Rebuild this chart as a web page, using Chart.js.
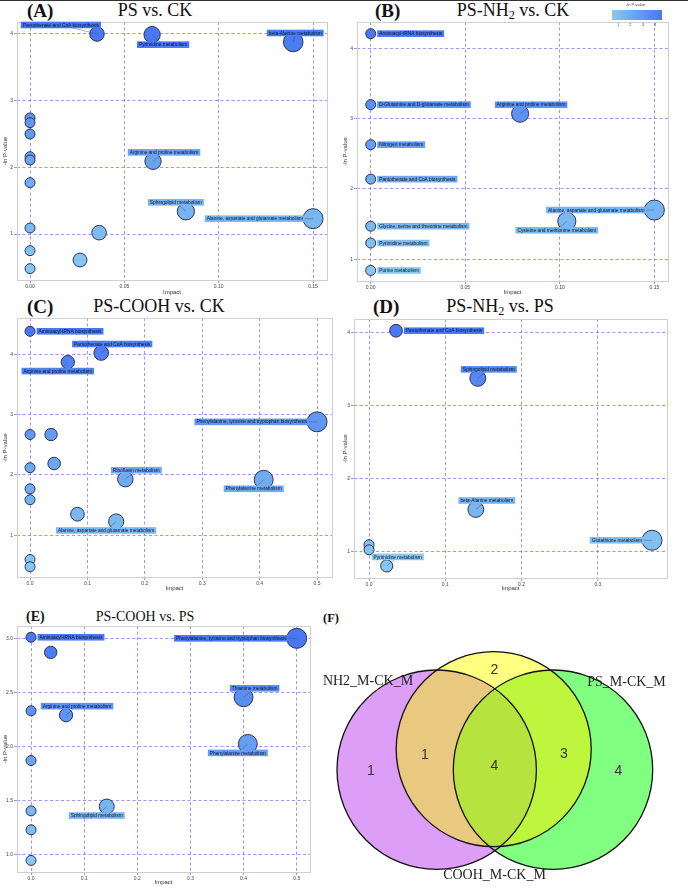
<!DOCTYPE html>
<html><head><meta charset="utf-8">
<script src="https://cdn.jsdelivr.net/npm/chart.js@4.4.1/dist/chart.umd.min.js"></script>
<style>
body{margin:0;background:#fff;width:688px;height:890px;position:relative;overflow:hidden;font-family:"Liberation Serif","Times New Roman",serif;}
canvas{position:absolute;}
.t{position:absolute;white-space:nowrap;color:#111;line-height:1;}
.pl{font-weight:bold;}
.c{transform:translate(-50%,-50%);}
.l{transform:translateY(-50%);}
.sb{font-size:0.68em;position:relative;top:0.28em;}
</style></head><body>
<div style="position:absolute;left:0;top:0;width:688px;height:1px;background:#333"></div>
<div class="t pl l" style="left:27px;top:10px;font-size:19px">(A)</div>
<div class="t c" style="left:155px;top:10px;font-size:18px">PS vs. CK</div>
<div class="t pl l" style="left:375px;top:10px;font-size:19px">(B)</div>
<div class="t c" style="left:513px;top:10px;font-size:18px">PS-NH<span class="sb">2</span> vs. CK</div>
<div class="t pl l" style="left:27px;top:306px;font-size:19px">(C)</div>
<div class="t c" style="left:159px;top:306px;font-size:18px">PS-COOH vs. CK</div>
<div class="t pl l" style="left:373px;top:306px;font-size:19px">(D)</div>
<div class="t c" style="left:500px;top:306px;font-size:18px">PS-NH<span class="sb">2</span> vs. PS</div>
<div class="t pl l" style="left:26px;top:617px;font-size:14px">(E)</div>
<div class="t c" style="left:145px;top:617px;font-size:14px">PS-COOH vs. PS</div>
<div class="t pl l" style="left:323px;top:618px;font-size:12.5px">(F)</div>
<script>
// ---------------- DATA ----------------
// Panel A: PS vs. CK
const namesA = ['Pantothenate and CoA biosynthesis','Pyrimidine metabolism','beta-Alanine metabolism','Arginine and proline metabolism','Sphingolipid metabolism','Alanine, aspartate and glutamate metabolism','','','','','','','','','','',''];
const impactA = [0.0355,0.0647,0.1395,0.0652,0.0826,0.150,0.0366,0.0265,0,0,0,0,0,0,0,0,0];
const lnpA = [4.00,3.99,3.88,2.09,1.34,1.23,1.02,0.61,2.74,2.67,2.50,2.16,2.11,1.77,1.09,0.75,0.48];
const labelPosA = ['AL','B+','A0','A','A-','L','','','','','','','','','','',''];
const xTicksA = [0,0.05,0.10,0.15];
const xTickLabelsA = ['0.00','0.05','0.10','0.15'];
const yTicksA = [1,2,3,4];
const yTickLabelsA = ['1','2','3','4'];

// Panel B: PS-NH2 vs. CK
const namesB = ['Aminoacyl-tRNA biosynthesis','D-Glutamine and D-glutamate metabolism','Arginine and proline metabolism','Nitrogen metabolism','Pantothenate and CoA biosynthesis','Alanine, aspartate and glutamate metabolism','Cysteine and methionine metabolism','Glycine, serine and threonine metabolism','Pyrimidine metabolism','Purine metabolism'];
const impactB = [0,0,0.079,0,0,0.150,0.1037,0,0,0];
const lnpB = [4.21,3.20,3.07,2.63,2.14,1.70,1.54,1.47,1.23,0.84];
const labelPosB = ['R','R','A','R','R','L','B','R','R','R'];
const xTicksB = [0,0.05,0.10,0.15];
const xTickLabelsB = ['0.00','0.05','0.10','0.15'];
const yTicksB = [1,2,3,4];
const yTickLabelsB = ['1','2','3','4'];
const legendTicks = [1,2,3,4];

// Panel C: PS-COOH vs. CK
const namesC = ['Aminoacyl-tRNA biosynthesis','Pantothenate and CoA biosynthesis','Arginine and proline metabolism','Phenylalanine, tyrosine and tryptophan biosynthesis','','','','','Riboflavin metabolism','Phenylalanine metabolism','','','','Alanine, aspartate and glutamate metabolism','',''];
const impactC = [0,0.124,0.0658,0.50,0,0.0366,0.042,0,0.166,0.407,0,0,0.0826,0.150,0,0];
const lnpC = [4.38,4.02,3.87,2.88,2.67,2.67,2.19,2.12,1.93,1.92,1.77,1.59,1.35,1.23,0.60,0.48];
const labelPosC = ['R','A','B','L','','','','','A','B','','','','B','',''];
const xTicksC = [0,0.1,0.2,0.3,0.4,0.5];
const xTickLabelsC = ['0.0','0.1','0.2','0.3','0.4','0.5'];
const yTicksC = [1,2,3,4];
const yTickLabelsC = ['1','2','3','4'];

// Panel D: PS-NH2 vs. PS
const namesD = ['Pantothenate and CoA biosynthesis','Sphingolipid metabolism','beta-Alanine metabolism','Glutathione metabolism','','','Pyrimidine metabolism'];
const impactD = [0.0354,0.1426,0.140,0.371,0,0,0.0232];
const lnpD = [4.02,3.37,1.58,1.16,1.10,1.03,0.81];
const labelPosD = ['R','A','A','L','','','A'];
const xTicksD = [0,0.1,0.2,0.3];
const xTickLabelsD = ['0.0','0.1','0.2','0.3'];
const yTicksD = [1,2,3,4];
const yTickLabelsD = ['1','2','3','4'];

// Panel E: PS-COOH vs. PS
const namesE = ['Aminoacyl-tRNA biosynthesis','','Phenylalanine, tyrosine and tryptophan biosynthesis','Thiamine metabolism','','Arginine and proline metabolism','Phenylalanine metabolism','','Sphingolipid metabolism','','',''];
const impactE = [0,0.037,0.50,0.40,0,0.0659,0.408,0,0.1425,0,0,0];
const lnpE = [3.01,2.87,3.00,2.455,2.33,2.29,2.024,1.87,1.445,1.405,1.23,0.947];
const labelPosE = ['R','','L','A','','A','B','','B','','',''];
const xTicksE = [0,0.1,0.2,0.3,0.4,0.5];
const xTickLabelsE = ['0.0','0.1','0.2','0.3','0.4','0.5'];
const yTicksE = [1.0,1.5,2.0,2.5,3.0];
const yTickLabelsE = ['1.0','1.5','2.0','2.5','3.0'];

// Panel F: Venn
const vennSetNames = ['NH2_M-CK_M','COOH_M-CK_M','PS_M-CK_M'];
const vennRegions = ['NH2 only','COOH only','PS only','NH2 & COOH','COOH & PS','all three'];
const vennCounts = [1,2,4,1,3,4];

// ---------------- LAYOUT / STYLE ----------------
const SANS = '"Liberation Sans", Arial, sans-serif';
const SERIF = '"Liberation Serif", "Times New Roman", serif';
const GRID = 'rgba(120,105,242,0.72)';
const LO = [136,200,240], HI = [72,120,243];
function colorFor(t){ t=Math.max(0,Math.min(1,t)); return 'rgb('+LO.map((c,k)=>Math.round(c+(HI[k]-c)*t)).join(',')+')'; }

const PANELS = [
 {names:namesA, impact:impactA, lnp:lnpA, modes:labelPosA, xt:xTicksA, xl:xTickLabelsA, yt:yTicksA, yl:yTickLabelsA,
  canvas:[0,0,340,298], area:[17,22,327,280], xr:[-0.0069,0.1574], yr:[0.31,4.18], tpb:2.4},
 {names:namesB, impact:impactB, lnp:lnpB, modes:labelPosB, xt:xTicksB, xl:xTickLabelsB, yt:yTicksB, yl:yTickLabelsB,
  canvas:[340,0,348,298], area:[357,22,668,281], xr:[-0.00725,0.1572], yr:[0.69,4.376], tpb:2.4, legend:true},
 {names:namesC, impact:impactC, lnp:lnpC, modes:labelPosC, xt:xTicksC, xl:xTickLabelsC, yt:yTicksC, yl:yTickLabelsC,
  canvas:[0,300,340,292], area:[17,318,332,577], xr:[-0.0227,0.526], yr:[0.31,4.60], tpb:0.4},
 {names:namesD, impact:impactD, lnp:lnpD, modes:labelPosD, xt:xTicksD, xl:xTickLabelsD, yt:yTicksD, yl:yTickLabelsD,
  canvas:[340,300,348,292], area:[354,319,667,578], xr:[-0.0197,0.3906], yr:[0.645,4.18], tpb:0.4},
 {names:namesE, impact:impactE, lnp:lnpE, modes:labelPosE, xt:xTicksE, xl:xTickLabelsE, yt:yTicksE, yl:yTickLabelsE,
  canvas:[0,605,320,285], area:[17,626,310,872], xr:[-0.0264,0.525], yr:[0.84,3.114], tpb:4.4}
];

const framePlugin = {id:'frame', beforeDatasetsDraw(chart){
  const {ctx, chartArea:a} = chart;
  ctx.save(); ctx.strokeStyle='#cfcfcf'; ctx.lineWidth=1;
  ctx.strokeRect(Math.round(a.left)+0.5, Math.round(a.top)+0.5, Math.round(a.right-a.left), Math.round(a.bottom-a.top));
  ctx.restore();
}};

function makeCanvas(c){
  const cv = document.createElement('canvas');
  cv.style.left=c[0]+'px'; cv.style.top=c[1]+'px';
  cv.style.width=c[2]+'px'; cv.style.height=c[3]+'px';
  cv.width=c[2]; cv.height=c[3];
  document.body.appendChild(cv);
  return cv;
}

function makePanel(p){
  const cv = makeCanvas(p.canvas);
  const [cl,ct,cw,ch] = p.canvas;
  const [L,T,R,B] = p.area;
  const yW = L-cl, xH = ct+ch-B;
  const maxI = Math.max(...p.impact);
  const minV = Math.min(...p.lnp), maxV = Math.max(...p.lnp);
  const pts = p.impact.map((v,i)=>({x:v, y:p.lnp[i], r:5+5*Math.pow(v/maxI,0.55)}));
  const cols = p.lnp.map(v=>colorFor((v-minV)/(maxV-minV)));

  const labelPlugin = {id:'plabels', afterDatasetsDraw(chart){
    const ctx = chart.ctx, meta = chart.getDatasetMeta(0);
    ctx.save();
    ctx.font = '4.8px '+SANS; ctx.textBaseline='middle'; ctx.textAlign='center';
    p.names.forEach((nm,i)=>{
      if(!nm) return;
      const el = meta.data[i], x=el.x, y=el.y, r=pts[i].r;
      const w = ctx.measureText(nm).width+4, h=6.6;
      let cx, cy;
      switch(p.modes[i]){
        case 'R': cx=x+r+1.5+w/2; cy=y; break;
        case 'L': cx=x-r+2-w/2; cy=y; break;
        case 'A': cx=x+11; cy=y-9; break;
        case 'A0': cx=x+2; cy=y-9; break;
        case 'A-': cx=x-10; cy=y-9; break;
        case 'AL': cx=x+4-w/2; cy=y-9; break;
        case 'B': cx=x-10; cy=y+9; break;
        case 'B+': cx=x+11; cy=y+10; break;
        default: cx=x; cy=y-9;
      }
      if(p.modes[i]!=='R'){
        ctx.strokeStyle='rgba(60,70,100,0.7)'; ctx.lineWidth=0.6;
        ctx.beginPath(); ctx.moveTo(x,y); ctx.lineTo(cx,cy); ctx.stroke();
      }
      ctx.fillStyle=cols[i]; ctx.fillRect(cx-w/2, cy-h/2, w, h);
      ctx.fillStyle='#10142a'; ctx.fillText(nm, cx, cy+0.3);
    });
    ctx.restore();
  }};

  const legendPlugin = {id:'plegend', afterDraw(chart){
    if(!p.legend) return;
    const ctx = chart.ctx;
    const x0=272, x1=322, y0=10, y1=20;
    ctx.save();
    const g = ctx.createLinearGradient(x0,0,x1,0);
    g.addColorStop(0, colorFor(0)); g.addColorStop(1, colorFor(1));
    ctx.fillStyle=g; ctx.fillRect(x0,y0,x1-x0,y1-y0);
    ctx.fillStyle='#444'; ctx.font='4px '+SANS; ctx.textAlign='center'; ctx.textBaseline='middle';
    ctx.fillText('-ln P-value', 295.5, 4.5);
    legendTicks.forEach((v,i)=>{ ctx.fillText(String(v), 278+(v-1)*12.4, 24.5); });
    ctx.restore();
  }};

  new Chart(cv, {
    type:'bubble',
    data:{datasets:[{data:pts, backgroundColor:cols, borderColor:'#2b3350', borderWidth:1, clip:false}]},
    options:{
      responsive:false, animation:false, events:[],
      layout:{autoPadding:false, padding:{left:0, top:T-ct, right:cl+cw-R, bottom:0}},
      plugins:{legend:{display:false}, tooltip:{enabled:false}},
      scales:{
        x:{type:'linear', min:p.xr[0], max:p.xr[1],
          afterBuildTicks:s=>{ s.ticks = p.xt.map(v=>({value:v})); },
          afterFit:s=>{ s.height = xH; },
          ticks:{callback:(v,i)=>p.xl[i], font:{size:5, family:SANS}, color:'#444', padding:1, maxRotation:0, autoSkip:false},
          grid:{color:GRID, lineWidth:1, tickLength:3, tickColor:GRID},
          border:{display:false, dash:[3,2.5]},
          title:{display:true, text:'Impact', font:{size:6, family:SANS}, color:'#333', padding:{top:0, bottom:p.tpb}}
        },
        y:{type:'linear', min:p.yr[0], max:p.yr[1],
          afterBuildTicks:s=>{ s.ticks = p.yt.map(v=>({value:v})); },
          afterFit:s=>{ s.width = yW; },
          ticks:{callback:(v,i)=>p.yl[i], font:{size:5, family:SANS}, color:'#444', padding:1, autoSkip:false},
          grid:{color:GRID, lineWidth:1, tickLength:3, tickColor:GRID},
          border:{display:false, dash:[3,2.5]},
          title:{display:true, text:'-ln P-value', font:{size:6, family:SANS}, color:'#333', padding:{top:1.4, bottom:0}}
        }
      }
    },
    plugins:[framePlugin, labelPlugin, legendPlugin]
  });
}
PANELS.forEach(makePanel);

// ---------------- VENN (F) ----------------
const VENN = {
  canvas:[300,600,388,290],
  circles:[[136.7,169.7,99.7],[193.7,149.2,97.5],[253,169.7,99.7]],
  fills:['#dc9ef6','#ffff80','#80ff80'],
  pairFills:{'0-1':'#e9c980','1-2':'#bdf63c','0-2':'#b9c79a'},
  tripleFill:'#b7e33f',
  countPos:[[71,170.7],[194.3,70],[318.3,170.7],[125,155],[264,154],[194.3,166.3]],
  setLabelPos:[[68,81.7],[194.5,275],[326.5,82.7]]
};
(function(){
  const cv = makeCanvas(VENN.canvas);
  const vennPlugin = {id:'venn', afterDatasetsDraw(chart){
    const {ctx, scales:{x, y}} = chart;
    const C = VENN.circles.map(c=>({x:x.getPixelForValue(c[0]), y:y.getPixelForValue(c[1]), r:Math.abs(x.getPixelForValue(c[2])-x.getPixelForValue(0))}));
    const path = c=>{ ctx.beginPath(); ctx.arc(c.x,c.y,c.r,0,Math.PI*2); };
    ctx.save();
    C.forEach((c,i)=>{ path(c); ctx.fillStyle=VENN.fills[i]; ctx.fill(); });
    Object.entries(VENN.pairFills).forEach(([k,col])=>{
      const [a,b] = k.split('-').map(Number);
      ctx.save(); path(C[a]); ctx.clip(); path(C[b]); ctx.fillStyle=col; ctx.fill(); ctx.restore();
    });
    ctx.save(); path(C[0]); ctx.clip(); path(C[1]); ctx.clip(); path(C[2]); ctx.fillStyle=VENN.tripleFill; ctx.fill(); ctx.restore();
    ctx.strokeStyle='#111'; ctx.lineWidth=1.3;
    C.forEach(c=>{ path(c); ctx.stroke(); });
    ctx.fillStyle='#333'; ctx.font='14px '+SANS; ctx.textAlign='center'; ctx.textBaseline='middle';
    vennCounts.forEach((n,i)=>{ const q=VENN.countPos[i]; ctx.fillText(String(n), x.getPixelForValue(q[0]), y.getPixelForValue(q[1])); });
    ctx.fillStyle='#222'; ctx.font='14px '+SERIF;
    vennSetNames.forEach((s,i)=>{ const q=VENN.setLabelPos[i]; ctx.fillText(s, x.getPixelForValue(q[0]), y.getPixelForValue(q[1])); });
    ctx.restore();
  }};
  new Chart(cv, {
    type:'scatter',
    data:{datasets:[{data:[]}]},
    options:{responsive:false, animation:false, events:[],
      layout:{autoPadding:false, padding:0},
      plugins:{legend:{display:false}, tooltip:{enabled:false}},
      scales:{x:{type:'linear', min:0, max:VENN.canvas[2], display:false},
              y:{type:'linear', min:0, max:VENN.canvas[3], reverse:true, display:false}}},
    plugins:[vennPlugin]
  });
})();
</script>
</body></html>
